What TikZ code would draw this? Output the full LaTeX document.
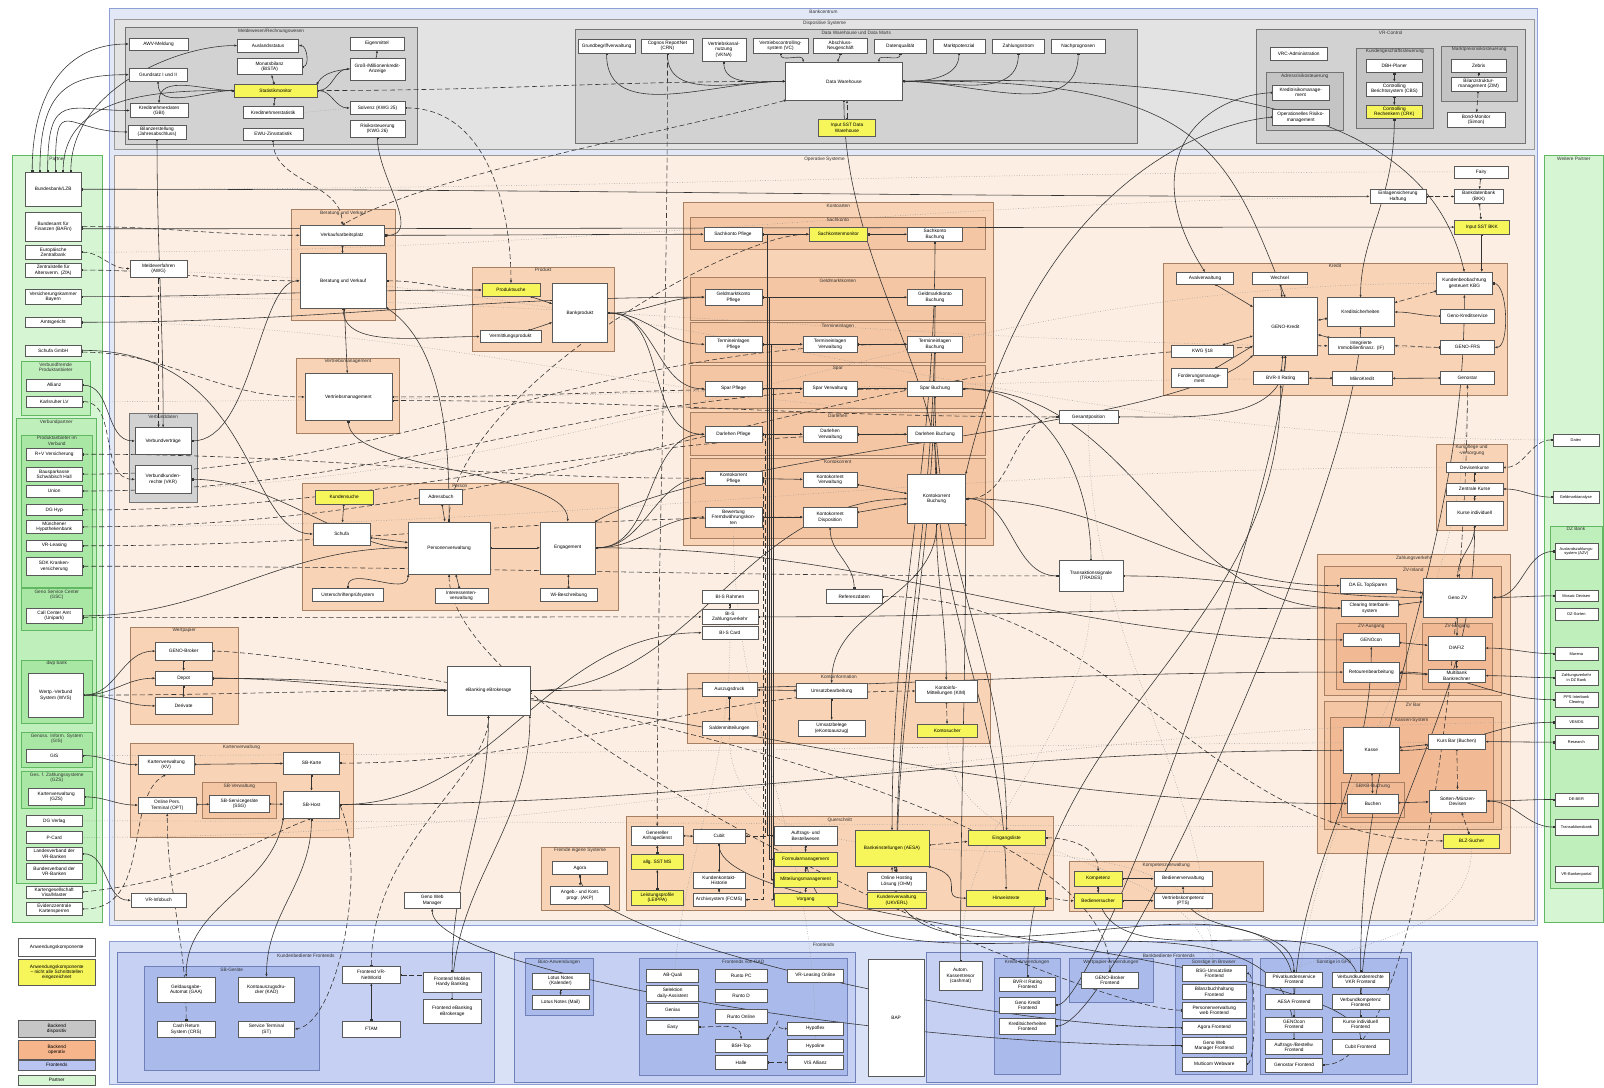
\documentclass[tikz,border=0pt]{standalone}
\usepackage{fontspec}
\setmainfont{Liberation Sans}
\usetikzlibrary{calc,arrows.meta,positioning}

\definecolor{bankfill}{HTML}{E2E8F6}
\definecolor{frameblue}{HTML}{8E9FD8}
\definecolor{dispfill}{HTML}{E3E3E3}
\definecolor{grayfill}{HTML}{D2D2D2}
\definecolor{grayfill2}{HTML}{C4C4C4}
\definecolor{operfill}{HTML}{FCEEE2}
\definecolor{orfill}{HTML}{F8D3B5}
\definecolor{orfill2}{HTML}{F5C6A3}
\definecolor{orfill3}{HTML}{F1BA95}
\definecolor{orline}{HTML}{A77F63}
\definecolor{frontfill}{HTML}{D9E1F7}
\definecolor{bluefill}{HTML}{C5D0F2}
\definecolor{bluefill2}{HTML}{AABBEB}
\definecolor{blueline}{HTML}{6F7FB8}
\definecolor{greenfill}{HTML}{D6F5D3}
\definecolor{greenfill2}{HTML}{BFEFBB}
\definecolor{greenfill3}{HTML}{A8E8A4}
\definecolor{greenline}{HTML}{62B862}
\definecolor{hlyellow}{HTML}{F6F65A}
\definecolor{legorange}{HTML}{F7B58C}
\definecolor{leggray}{HTML}{C6C6C6}
\definecolor{legblue}{HTML}{B9C4F1}

\pgfdeclarelayer{grp}
\pgfdeclarelayer{wire}
\pgfsetlayers{grp,wire,main}

\tikzset{
  comp/.style={draw=black!65, fill=white, line width=0.25pt, inner sep=0.3pt, outer sep=0pt,
    align=center, font=\fontsize{2.65}{3}\selectfont},
  compy/.style={comp, fill=hlyellow},
  compsm/.style={comp, font=\fontsize{2.2}{2.6}\selectfont},
  zonebase/.style={line width=0.3pt, inner sep=0pt, outer sep=0pt},
  grptitle/.style={anchor=north, inner sep=0.6pt, align=center, text=black!80,
    font=\fontsize{2.65}{3}\selectfont},
  bankzone/.style={zonebase, fill=bankfill, draw=frameblue, line width=0.55pt},
  dispzone/.style={zonebase, fill=dispfill, draw=black!40, line width=0.4pt},
  grayzone/.style={zonebase, fill=grayfill, draw=black!55},
  grayzone2/.style={zonebase, fill=grayfill2, draw=black!55},
  operzone/.style={zonebase, fill=operfill, draw=black!40, line width=0.4pt},
  orzone/.style={zonebase, fill=orfill, draw=orline},
  orzone2/.style={zonebase, fill=orfill2, draw=orline},
  orzone3/.style={zonebase, fill=orfill3, draw=orline},
  frontzone/.style={zonebase, fill=frontfill, draw=frameblue, line width=0.55pt},
  bluezone/.style={zonebase, fill=bluefill, draw=blueline},
  bluezone2/.style={zonebase, fill=bluefill2, draw=blueline},
  greenzone/.style={zonebase, fill=greenfill, draw=greenline, line width=0.4pt},
  greenzone2/.style={zonebase, fill=greenfill2, draw=greenline},
  greenzone3/.style={zonebase, fill=greenfill3, draw=greenline},
  ln/.style={draw=black!80, line width=0.32pt,
    {Square[length=1pt,width=1pt]}-{Latex[length=1.6pt,width=1.3pt]}},
  dln/.style={ln, dash pattern=on 2.8pt off 1.6pt},
  pln/.style={draw=black!40, line width=0.25pt, dash pattern=on 0.4pt off 1pt}
}

% component box and group box from two corners (x1,y1) (x2,y2)
\newcommand{\blk}[7]{\node[#1, minimum width={(#5-#3)*0.02cm}, minimum height={(#6-#4)*0.02cm}]
  (#2) at ({(#3+#5)/2},{(#4+#6)/2}) {#7};}
\newcommand{\zone}[7]{\node[#1, minimum width={(#5-#3)*0.02cm}, minimum height={(#6-#4)*0.02cm},
  label={[grptitle]north:#7}] (#2) at ({(#3+#5)/2},{(#4+#6)/2}) {};}

\begin{document}
\begin{tikzpicture}[x=0.02cm, y=-0.02cm]
\useasboundingbox (0,0) rectangle (1568,1063);

\begin{pgfonlayer}{grp}
  \fill[white] (0,0) rectangle (1568,1063);
  % ---- Bankcentrum and dispositive systems ----
  \zone{bankzone}{bankcentrum}{107}{8}{1503}{905}{Bankcentrum}
  \zone{dispzone}{dispo}{112}{19}{1500}{146}{Dispositive Systeme}
  \zone{grayzone}{meldewesen}{122}{27}{408}{141}{Meldewesen/Rechnungswesen}
  \zone{grayzone}{dwh}{562}{29}{1112}{140}{Data Warehouse und Data Marts}
  \zone{grayzone}{vrcontrol}{1228}{29}{1491}{140}{VR-Control}
  \zone{grayzone2}{adress}{1238}{71}{1313}{127}{Adressrisikosteuerung}
  \zone{grayzone2}{kundengesch}{1326}{47}{1401}{125}{Kundengeschäftssteuerung}
  \zone{grayzone2}{marktpreis}{1409}{45}{1483}{99}{Marktpreisrisikosteuerung}
  % ---- operative systems ----
  \zone{operzone}{operativ}{112}{152}{1500}{900}{Operative Systeme}
  \zone{orzone}{beratung}{285}{205}{386}{313}{Beratung und Verkauf}
  \zone{orzone}{vertrieb}{290}{350}{390}{424}{Vertriebsmanagement}
  \zone{orzone}{produkt}{462}{261}{600}{343}{Produkt}
  \zone{grayzone}{verbunddaten}{126}{404}{193}{491}{Verbunddaten}
  \zone{orzone}{person}{295}{472}{604}{597}{Person}
  \zone{orzone}{wertpapier}{127}{613}{233}{708}{Wertpapier}
  \zone{orzone}{karten}{127}{727}{345}{818}{Kartenverwaltung}
  \zone{orzone2}{sbservice}{198}{765}{270}{800}{SB-Verwaltung}
  \zone{orzone}{kontoarten}{668}{198}{971}{533}{Kontoarten}
  \zone{orzone2}{sachkonto}{675}{212}{963}{244}{Sachkonto}
  \zone{orzone2}{geldmarkt}{675}{271}{963}{313}{Geldmarktkonten}
  \zone{orzone2}{termin}{675}{315}{963}{354}{Termineinlagen}
  \zone{orzone2}{spar}{675}{357}{963}{399}{Spar}
  \zone{orzone2}{darlehen}{675}{403}{963}{445}{Darlehen}
  \zone{orzone2}{kontokorrent}{675}{448}{963}{526}{Kontokorrent}
  \zone{orzone}{kontoinfo}{672}{658}{968}{727}{Kontoinformation}
  \zone{orzone}{kredit}{1137}{257}{1473}{386}{Kredit}
  \zone{orzone}{kurse}{1404}{434}{1473}{518}{Kurspflege und\\-versorgung}
  \zone{orzone}{zvouter}{1288}{542}{1476}{834}{Zahlungsverkehr}
  \zone{orzone2}{zvinland}{1295}{554}{1468}{680}{ZV-Inland}
  \zone{orzone3}{zvaus}{1306}{609}{1375}{674}{ZV-Ausgang}
  \zone{orzone3}{zvein}{1390}{609}{1459}{674}{ZV-Eingang}
  \zone{orzone2}{zvbar}{1295}{686}{1468}{811}{ZV Bar}
  \zone{orzone3}{kassensys}{1300}{701}{1460}{804}{Kassen-System}
  \zone{orzone3}{sbkb}{1311}{765}{1373}{799}{SB/KB-Buchung}
  \zone{orzone}{fremde}{529}{828}{605}{890}{Fremde eigene Systeme}
  \zone{orzone}{querschnitt}{612}{798}{1030}{890}{Querschnitt}
  \zone{orzone}{kompetenz}{1045}{842}{1235}{891}{Kompetenzverwaltung}
  % ---- partners ----
  \zone{greenzone}{partner}{12}{152}{100}{902}{Partner}
  \zone{greenzone2}{vfremd}{21}{353}{88}{406}{Verbundfremde\\Produktanbieter}
  \zone{greenzone2}{vpartner}{16}{409}{94}{863}{Verbundpartner}
  \zone{greenzone3}{panbieter}{21}{425}{90}{574}{Produktanbieter im\\Verbund}
  \zone{greenzone3}{gsc}{21}{575}{90}{616}{Geno Service Center\\(GSC)}
  \zone{greenzone3}{dwpbank}{21}{645}{90}{707}{dwp bank}
  \zone{greenzone3}{gis}{21}{716}{90}{750}{Genoss. Inform. System\\(GIS)}
  \zone{greenzone3}{gzs}{21}{754}{90}{790}{Ges. f. Zahlungssysteme\\(GZS)}
  \zone{greenzone}{weitere}{1510}{152}{1567}{902}{Weitere Partner}
  \zone{greenzone2}{dzbank}{1515}{514}{1566}{868}{DZ Bank}
  % ---- frontends ----
  \zone{frontzone}{frontends}{107}{920}{1503}{1060}{Frontends}
  \zone{bluezone}{kundfront}{115}{931}{483}{1058}{Kundenbediente Frontends}
  \zone{bluezone2}{sbgeraete}{141}{945}{312}{1046}{SB-Geräte}
  \zone{bluezone}{mitfront}{503}{931}{836}{1058}{}
  \zone{bluezone2}{buero}{513}{937}{580}{992}{Büro-Anwendungen}
  \zone{bluezone2}{gadfront}{625}{937}{828}{1051}{Frontends von GAD}
  \zone{bluezone}{bankfront}{905}{931}{1380}{1058}{Bankbediente Frontends}
  \zone{bluezone2}{kreditfront}{972}{937}{1036}{1050}{Kredit-Anwendungen}
  \zone{bluezone2}{wpfront}{1045}{937}{1127}{980}{Wertpapier-Anwendungen}
  \zone{bluezone2}{browser}{1149}{937}{1224}{1050}{Sonstige im Browser}
  \zone{bluezone2}{gfs}{1232}{937}{1376}{1050}{Sonstige in GFS}
\end{pgfonlayer}

% ---- Meldewesen ----
\blk{comp}{awv}{126}{37}{184}{49}{AWV-Meldung}
\blk{comp}{auslands}{232}{38}{292}{51}{Auslandsstatus}
\blk{comp}{bista}{232}{57}{295}{73}{Monatsbilanz\\(BISTA)}
\blk{comp}{eigen}{342}{36}{395}{49}{Eigenmittel}
\blk{comp}{gross}{342}{57}{396}{78}{Groß-/Millionenkredit-\\Anzeige}
\blk{comp}{grundsatz}{126}{67}{183}{79}{Grundsatz I und II}
\blk{compy}{statmon}{229}{82}{310}{95}{Statistikmonitor}
\blk{comp}{kreditnd}{127}{101}{184}{115}{Kreditnehmerdaten\\(GBI)}
\blk{comp}{kreditns}{238}{104}{296}{116}{Kreditnehmerstatistik}
\blk{comp}{solvenz}{342}{99}{396}{112}{Solvenz (KWG 25)}
\blk{comp}{bilanz}{125}{122}{182}{136}{Bilanzerstellung\\(Jahresabschluss)}
\blk{comp}{ewu}{238}{125}{296}{137}{EWU-Zinsstatistik}
\blk{comp}{risiko}{342}{118}{396}{134}{Risikosteuerung\\(KWG 26)}

% ---- Data Warehouse ----
\blk{comp}{grundb}{565}{38}{621}{52}{Grundbegriffverwaltung}
\blk{comp}{cognos}{627}{38}{678}{52}{Cognos ReportNet\\(CRN)}
\blk{comp}{vkna}{686}{37}{729}{60}{Vertriebskanal-\\nutzung\\(VKNA)}
\blk{comp}{vcs}{736}{37}{790}{52}{Vertriebscontrolling-\\system (VC)}
\blk{comp}{abschl}{795}{37}{848}{52}{Abschluss-\\Neugeschäft}
\blk{comp}{datenq}{855}{38}{905}{52}{Datenqualität}
\blk{comp}{markt}{912}{38}{963}{52}{Marktpotenzial}
\blk{comp}{zahlstr}{970}{38}{1021}{52}{Zahlungsstrom}
\blk{comp}{nachpr}{1028}{38}{1080}{52}{Nachprognosen}
\blk{comp}{dwhbox}{768}{61}{882}{98}{Data Warehouse}
\blk{compy}{inputdwh}{800}{117}{856}{133}{Input SST Data\\Warehouse}

% ---- VR-Control ----
\blk{comp}{vrcadmin}{1242}{46}{1297}{59}{VRC-Administration}
\blk{comp}{kreditrm}{1244}{83}{1299}{98}{Kreditrisikomanage-\\ment}
\blk{comp}{oprisk}{1244}{107}{1299}{122}{Operationelles Risiko-\\management}
\blk{comp}{dbhplaner}{1336}{58}{1390}{71}{DBH-Planer}
\blk{comp}{cbs}{1336}{80}{1390}{94}{Controlling\\Berichtssystem (CBS)}
\blk{compy}{crk}{1336}{103}{1390}{116}{Controlling\\Rechenkern (CRK)}
\blk{comp}{zebris}{1419}{58}{1472}{71}{Zebris}
\blk{comp}{zim}{1419}{75}{1472}{89}{Bilanzstruktur-\\management (ZIM)}
\blk{comp}{simon}{1415}{110}{1471}{124}{Bond-Monitor\\(Simon)}

% ---- Operative, left part ----
\blk{comp}{meldev}{127}{254}{183}{271}{Meldeverfahren\\(AWG)}
\blk{comp}{vvertr}{132}{418}{187}{444}{Verbundverträge}
\blk{comp}{vkr}{132}{455}{187}{482}{Verbundkunden-\\rechte (VKR)}
\blk{comp}{vap}{293}{220}{376}{240}{Verkaufsarbeitsplatz}
\blk{comp}{bvbox}{293}{248}{378}{301}{Beratung und Verkauf}
\blk{comp}{vmgmt}{298}{365}{383}{411}{Vertriebsmanagement}
\blk{compy}{produktsuche}{471}{277}{528}{290}{Produktsuche}
\blk{comp}{vermittl}{469}{323}{529}{335}{Vermittlungsprodukt}
\blk{comp}{bankprod}{540}{277}{594}{335}{Bankprodukt}
\blk{compy}{kundensuche}{308}{479}{365}{493}{Kundensuche}
\blk{comp}{adressbuch}{410}{478}{452}{493}{Adressbuch}
\blk{comp}{schufa}{306}{511}{362}{533}{Schufa}
\blk{comp}{persvw}{399}{510}{479}{561}{Personenverwaltung}
\blk{comp}{engag}{528}{510}{582}{561}{Engagement}
\blk{comp}{unterschr}{305}{575}{375}{588}{Unterschriftenprüfsystem}
\blk{comp}{interess}{425}{575}{477}{590}{Interessenten-\\verwaltung}
\blk{comp}{wibeschr}{528}{575}{584}{588}{Wi-Beschreibung}
\blk{comp}{genobroker}{152}{628}{207}{645}{GENO-Broker}
\blk{comp}{depot}{152}{656}{207}{670}{Depot}
\blk{comp}{derivate}{152}{682}{207}{698}{Derivate}
\blk{comp}{ebanking}{437}{651}{518}{699}{eBanking eBrokerage}
\blk{comp}{kartenvw}{135}{738}{190}{757}{Kartenverwaltung\\(KV)}
\blk{comp}{sbkarte}{277}{735}{332}{757}{SB-Karte}
\blk{comp}{opt}{135}{779}{192}{795}{Online Pers.\\Terminal (OPT)}
\blk{comp}{sbserv}{205}{777}{263}{794}{SB-Servicegeräte\\(SSG)}
\blk{comp}{sbhost}{277}{773}{332}{800}{SB-Host}
\blk{comp}{vrinfobuch}{128}{873}{182}{887}{VR-Infobuch}
\blk{comp}{genoweb}{395}{872}{450}{888}{Geno Web\\Manager}

% ---- Kontoarten ----
\blk{comp}{skpflege}{688}{222}{745}{236}{Sachkonto Pflege}
\blk{compy}{skmonitor}{791}{222}{848}{236}{Sachkontenmonitor}
\blk{comp}{skbuchung}{887}{222}{941}{236}{Sachkonto\\Buchung}
\blk{comp}{gmpflege}{689}{283}{745}{298}{Geldmarktkonto\\Pflege}
\blk{comp}{gmbuchung}{887}{283}{941}{298}{Geldmarktkonto\\Buchung}
\blk{comp}{tepflege}{689}{329}{745}{344}{Termineinlagen\\Pflege}
\blk{comp}{teverw}{785}{329}{838}{344}{Termineinlagen\\Verwaltung}
\blk{comp}{tebuchung}{887}{329}{941}{344}{Termineinlagen\\Buchung}
\blk{comp}{sppflege}{689}{373}{745}{387}{Spar Pflege}
\blk{comp}{spverw}{785}{373}{838}{387}{Spar Verwaltung}
\blk{comp}{spbuchung}{887}{373}{941}{387}{Spar Buchung}
\blk{comp}{dlpflege}{689}{417}{745}{432}{Darlehen Pflege}
\blk{comp}{dlverw}{785}{417}{838}{432}{Darlehen\\Verwaltung}
\blk{comp}{dlbuchung}{887}{417}{941}{432}{Darlehen Buchung}
\blk{comp}{kkpflege}{689}{461}{745}{474}{Kontokorrent\\Pflege}
\blk{comp}{kkverw}{785}{462}{838}{476}{Kontokorrent\\Verwaltung}
\blk{comp}{kkbuchung}{887}{464}{944}{511}{Kontokorrent\\Buchung}
\blk{comp}{fwbewert}{689}{496}{745}{515}{Bewertung\\Fremdwährungskon-\\ten}
\blk{comp}{kkdispo}{785}{496}{838}{515}{Kontokorrent\\Disposition}

% ---- below Kontoarten ----
\blk{comp}{bisrahmen}{686}{577}{741}{590}{BI-S Rahmen}
\blk{comp}{biszv}{686}{596}{741}{610}{BI-S\\Zahlungsverkehr}
\blk{comp}{biscard}{686}{612}{741}{625}{BI-S Card}
\blk{comp}{referenz}{808}{576}{862}{590}{Referenzdaten}
\blk{comp}{auszug}{686}{667}{740}{681}{Auszugsdruck}
\blk{comp}{salden}{686}{705}{740}{719}{Saldenmitteilungen}
\blk{comp}{umsatz}{778}{668}{848}{683}{Umsatzbearbeitung}
\blk{comp}{ekonto}{780}{704}{846}{720}{Umsatzbelege\\(eKontoauszug)}
\blk{comp}{kim}{895}{665}{955}{686}{Kontoinfo-\\Mitteilungen (KIM)}
\blk{compy}{kontosucher}{897}{708}{955}{721}{Kontosucher}
\blk{comp}{gesamtpos}{1035}{401}{1093}{414}{Gesamtposition}
\blk{comp}{trades}{1035}{548}{1098}{578}{Transaktionssignale\\(TRADES)}

% ---- Kredit ----
\blk{comp}{fairy}{1422}{162}{1474}{174}{Fairy}
\blk{comp}{einlagen}{1339}{185}{1394}{199}{Einlagensicherung\\Haftung}
\blk{comp}{bkk}{1422}{185}{1469}{199}{Bankdatenbank\\(BKK)}
\blk{compy}{inputbkk}{1422}{215}{1475}{229}{Input SST BKK}
\blk{comp}{aval}{1150}{266}{1206}{278}{Avalverwaltung}
\blk{comp}{wechsel}{1224}{266}{1278}{278}{Wechsel}
\blk{comp}{genokredit}{1225}{291}{1288}{347}{GENO-Kredit}
\blk{comp}{kreditsich}{1297}{291}{1363}{319}{Kreditsicherheiten}
\blk{comp}{immofin}{1298}{330}{1363}{346}{Integrierte\\Immobilienfinanz. (IF)}
\blk{comp}{kwg18}{1145}{337}{1206}{349}{KWG §18}
\blk{comp}{fordmgmt}{1145}{360}{1200}{379}{Forderungsmanage-\\ment}
\blk{comp}{bvrrating}{1225}{363}{1279}{376}{BVR-II Rating}
\blk{comp}{mikro}{1302}{363}{1361}{377}{MikroKredit}
\blk{comp}{kbg}{1404}{266}{1459}{288}{Kundenbeobachtung\\gesteuert KBG}
\blk{comp}{genoservice}{1408}{302}{1461}{316}{Geno-Kreditservice}
\blk{comp}{genofrs}{1408}{333}{1461}{346}{GENO-FRS}
\blk{comp}{genostar}{1408}{363}{1461}{376}{Genostar}
\blk{comp}{devisen}{1414}{452}{1469}{462}{Devisenkurse}
\blk{comp}{zkurse}{1414}{472}{1469}{484}{Zentrale Kurse}
\blk{comp}{ikurse}{1414}{490}{1469}{513}{Kurse individuell}

% ---- Zahlungsverkehr ----
\blk{comp}{topsparen}{1310}{565}{1365}{580}{DA EL TopSparen}
\blk{comp}{clearing}{1311}{587}{1367}{602}{Clearing Interbank-\\system}
\blk{comp}{genozv}{1391}{565}{1459}{603}{Geno ZV}
\blk{comp}{genocon}{1313}{619}{1368}{632}{GENOcon}
\blk{comp}{retouren}{1313}{647}{1368}{667}{Retourenbearbeitung}
\blk{comp}{diafiz}{1396}{622}{1452}{645}{DIAFIZ}
\blk{comp}{multibank}{1396}{654}{1452}{667}{Multibank\\Bankrechner}
\blk{comp}{kasse}{1313}{711}{1368}{756}{Kasse}
\blk{comp}{kursbar}{1396}{718}{1452}{732}{Kurs Bar (Buchen)}
\blk{comp}{buchen}{1317}{776}{1367}{795}{Buchen}
\blk{comp}{sorten}{1397}{772}{1453}{794}{Sorten-/Münzen-\\Devisen}
\blk{compy}{blzsucher}{1411}{815}{1466}{829}{BLZ-Sucher}

% ---- Weitere Partner ----
\blk{compsm}{datev}{1518}{424}{1563}{436}{Datev}
\blk{compsm}{gesanalyse}{1518}{480}{1563}{492}{Geldmarktanalyse}
\blk{compsm}{azv}{1520}{531}{1562}{547}{Auslandszahlungs-\\system (AZV)}
\blk{compsm}{mosaic}{1520}{577}{1562}{588}{Mosaic Devisen}
\blk{compsm}{dzsorten}{1520}{595}{1562}{606}{DZ-Sorten}
\blk{compsm}{marena}{1520}{633}{1562}{645}{Marena}
\blk{compsm}{zvdz}{1520}{655}{1562}{670}{Zahlungsverkehr\\in DZ Bank}
\blk{compsm}{pps}{1520}{677}{1562}{691}{PPS Interbank\\Clearing}
\blk{compsm}{vemos}{1520}{700}{1562}{712}{VEMOS}
\blk{compsm}{research}{1520}{719}{1562}{732}{Research}
\blk{compsm}{deber}{1520}{775}{1562}{788}{DE-BER}
\blk{compsm}{transbank}{1520}{801}{1562}{816}{Transaktionsbank}
\blk{compsm}{vrportal}{1520}{847}{1562}{862}{VR-Bankenportal}

% ---- Querschnitt ----
\blk{comp}{agora}{540}{842}{594}{855}{Agora}
\blk{comp}{akp}{538}{866}{596}{884}{Angeb.- und Kont.\\progr. (AKP)}
\blk{comp}{anfrage}{617}{808}{668}{826}{Genereller\\Anfragedienst}
\blk{compy}{allgsst}{617}{835}{668}{850}{allg. SST MS}
\blk{compy}{leippa}{617}{870}{668}{885}{Leistungsprofile\\(LEIPPA)}
\blk{comp}{cubit}{678}{811}{728}{824}{Cubit}
\blk{comp}{kkhist}{678}{853}{728}{868}{Kundenkontakt-\\Historie}
\blk{comp}{archiv}{678}{873}{728}{886}{Archivsystem (FCMS)}
\blk{comp}{auftrag}{757}{808}{818}{826}{Auftrags- und\\Bestellwesen}
\blk{compy}{formular}{757}{833}{818}{847}{Formularmanagement}
\blk{compy}{mitteil}{757}{853}{818}{867}{Mitteilungsmanagement}
\blk{compy}{vorgang}{757}{873}{818}{886}{Vorgang}
\blk{compy}{aesa}{836}{812}{908}{847}{Bankeinstellungen (AESA)}
\blk{comp}{ohm}{848}{853}{905}{870}{Online Hosting\\Lösung (OHM)}
\blk{compy}{ukverl}{848}{872}{905}{888}{Kundenverwaltung\\(UKVERL)}
\blk{compy}{eingang}{946}{812}{1022}{826}{Eingangsliste}
\blk{compy}{hinweis}{945}{870}{1022}{886}{Hinweistexte}
\blk{compy}{kompetenzbox}{1050}{852}{1097}{866}{Kompetenz}
\blk{comp}{bedvw}{1128}{852}{1185}{866}{Bedienerverwaltung}
\blk{compy}{bedsucher}{1050}{873}{1097}{888}{Bedienersucher}
\blk{comp}{pts}{1128}{873}{1185}{888}{Vertriebskompetenz\\(PTS)}

% ---- Partner ----
\blk{comp}{bbank}{25}{168}{79}{202}{Bundesbank/LZB}
\blk{comp}{bafin}{25}{207}{79}{236}{Bundesamt für\\Finanzen (BAFin)}
\blk{comp}{ezb}{25}{240}{79}{253}{Europäische\\Zentralbank}
\blk{comp}{zfa}{25}{257}{79}{271}{Zentralstelle für\\Altersverm. (ZfA)}
\blk{comp}{vkbayern}{25}{283}{79}{297}{Versicherungskammer\\Bayern}
\blk{comp}{amtsg}{25}{310}{79}{320}{Amtsgericht}
\blk{comp}{schufag}{25}{337}{79}{348}{Schufa GmbH}
\blk{comp}{allianz}{26}{371}{80}{382}{Allianz}
\blk{comp}{klv}{26}{387}{80}{398}{Karlsruher LV}
\blk{comp}{ruv}{26}{438}{80}{450}{R+V Versicherung}
\blk{comp}{bsh}{26}{457}{80}{470}{Bausparkasse\\Schwäbisch Hall}
\blk{comp}{union}{26}{474}{80}{486}{Union}
\blk{comp}{dghyp}{26}{493}{80}{504}{DG Hyp}
\blk{comp}{mhb}{26}{509}{80}{521}{Münchener\\Hypothekenbank}
\blk{comp}{vrleasing}{26}{528}{80}{539}{VR-Leasing}
\blk{comp}{sdk}{26}{545}{80}{562}{SDK Kranken-\\versicherung}
\blk{comp}{callcenter}{26}{595}{80}{609}{Call Center Amt\\(Unipark)}
\blk{comp}{wvs}{28}{658}{81}{701}{Wertp.-Verbund\\System (WVS)}
\blk{comp}{gisbox}{26}{732}{80}{745}{GIS}
\blk{comp}{kvgzs}{28}{771}{82}{787}{Kartenverwaltung\\(GZS)}
\blk{comp}{dgverlag}{26}{797}{80}{808}{DG Verlag}
\blk{comp}{pcard}{26}{813}{80}{824}{P-Card}
\blk{comp}{lvvr}{26}{828}{80}{841}{Landesverband der\\VR-Banken}
\blk{comp}{bvvr}{26}{844}{80}{859}{Bundesverband der\\VR-Banken}
\blk{comp}{kartenges}{26}{866}{80}{878}{Kartengesellschaft\\Visa/Master}
\blk{comp}{evidenz}{26}{882}{80}{895}{Evidenzzentrale\\Kartensperren}

% ---- Frontends ----
\blk{comp}{gaa}{154}{955}{210}{980}{Geldausgabe-\\Automat (GAA)}
\blk{comp}{kad}{233}{955}{288}{980}{Kontoauszugsdru-\\cker (KAD)}
\blk{comp}{crs}{154}{998}{210}{1014}{Cash Return\\System (CRS)}
\blk{comp}{st}{233}{998}{288}{1014}{Service Terminal\\(ST)}
\blk{comp}{vrnet}{335}{945}{391}{961}{Frontend VR-\\NetWorld}
\blk{comp}{ftam}{335}{998}{391}{1014}{FTAM}
\blk{comp}{mobile}{414}{950}{470}{970}{Frontend Mobiles\\Handy Banking}
\blk{comp}{febank}{414}{977}{470}{1000}{Frontend eBanking\\eBrokerage}
\blk{comp}{lotuskal}{520}{951}{576}{967}{Lotus Notes\\(Kalender)}
\blk{comp}{lotusmail}{520}{973}{576}{987}{Lotus Notes (Mail)}
\blk{comp}{abquali}{632}{947}{683}{960}{AB-Quali}
\blk{comp}{selektion}{632}{963}{683}{979}{Selektion\\daily-Assistent}
\blk{comp}{geniax}{632}{981}{683}{994}{Geniax}
\blk{comp}{easy}{632}{997}{683}{1011}{Easy}
\blk{comp}{runtopc}{699}{947}{750}{960}{Runto PC}
\blk{comp}{runtod}{699}{967}{750}{980}{Runto D}
\blk{comp}{runtoon}{699}{987}{750}{1000}{Runto Online}
\blk{comp}{bshtop}{699}{1016}{750}{1029}{BSH-Top}
\blk{comp}{halle}{699}{1032}{750}{1045}{Halle}
\blk{comp}{vrleasonl}{770}{947}{824}{960}{VR-Leasing Online}
\blk{comp}{hypoflex}{770}{999}{824}{1012}{Hypoflex}
\blk{comp}{hypoline}{770}{1016}{824}{1029}{Hypoline}
\blk{comp}{visallianz}{770}{1032}{824}{1045}{VIS Allianz}
\blk{comp}{bap}{849}{938}{903}{1052}{BAP}
\blk{comp}{kassentresor}{918}{940}{960}{968}{Autom.\\Kassentresor\\(cashmat)}
\blk{comp}{bvrfront}{977}{955}{1032}{969}{BVR-II Rating\\Frontend}
\blk{comp}{genokrfront}{977}{975}{1032}{990}{Geno Kredit\\Frontend}
\blk{comp}{ksfront}{977}{995}{1032}{1011}{Kreditsicherheiten\\Frontend}
\blk{comp}{brokerfront}{1057}{950}{1113}{966}{GENO-Broker\\Frontend}
\blk{comp}{bsgfront}{1156}{944}{1218}{959}{BSG-Umsatzliste\\Frontend}
\blk{comp}{bilfront}{1156}{962}{1218}{977}{Bilanzbuchhaltung\\Frontend}
\blk{comp}{pvfront}{1156}{980}{1218}{995}{Personenverwaltung\\web Frontend}
\blk{comp}{agorafront}{1156}{998}{1218}{1011}{Agora Frontend}
\blk{comp}{gwmfront}{1156}{1014}{1218}{1030}{Geno Web\\Manager Frontend}
\blk{comp}{multicom}{1156}{1033}{1218}{1047}{Multicom Webware}
\blk{comp}{pksfront}{1237}{950}{1293}{965}{Privatkundenservice\\Frontend}
\blk{comp}{aesafront}{1237}{972}{1293}{987}{AESA Frontend}
\blk{comp}{genoconfront}{1237}{994}{1293}{1009}{GENOcon\\Frontend}
\blk{comp}{auftragfront}{1237}{1016}{1293}{1031}{Auftrags-/Bestellw.\\Frontend}
\blk{comp}{genvfront}{1237}{1034}{1293}{1048}{Genostar Frontend}
\blk{comp}{vkrfront}{1302}{950}{1358}{965}{Verbundkundenrechte\\VKR Frontend}
\blk{comp}{vkompfront}{1302}{972}{1358}{987}{Verbundkompetenz\\Frontend}
\blk{comp}{ikursefront}{1302}{994}{1358}{1009}{Kurse individuell\\Frontend}
\blk{comp}{cubitfront}{1302}{1016}{1358}{1031}{Cubit Frontend}

% ---- legend ----
\blk{comp}{leg1}{18}{917}{93}{935}{Anwendungskomponente}
\blk{compy}{leg2}{18}{938}{93}{963}{Anwendungskomponente\\– nicht alle Schnittstellen\\eingezeichnet}
\blk{comp, fill=leggray}{leg3}{18}{997}{93}{1014}{Backend\\dispositiv}
\blk{comp, fill=legorange}{leg4}{18}{1017}{93}{1035}{Backend\\operativ}
\blk{comp, fill=legblue}{leg5}{18}{1036}{93}{1046}{Frontends}
\blk{comp, fill=greenfill}{leg6}{18}{1051}{93}{1061}{Partner}

\begin{pgfonlayer}{wire}
  % ---- partner into Meldewesen ----
  \foreach \dst/\fr in {awv/0.12, grundsatz/0.26, kreditnd/0.4, bilanz/0.54, statmon/0.68, auslands/0.82}
    \draw[ln] ($(bbank.north west)!\fr!(bbank.north east)$) .. controls +(0,-80) and +(-60,0) .. (\dst.west);

  % ---- Meldewesen ----
  \foreach \dst in {bista, kreditns} \draw[ln] (statmon) -- (\dst);
  \draw[ln] (statmon.east) to[out=0,in=180] (gross.west);
  \draw[ln] (statmon.east) to[out=0,in=180] (solvenz.west);
  \draw[ln] (statmon.north east) to[out=60,in=-90] (eigen.south);
  \draw[ln] (statmon.west) to[out=180,in=-90] (grundsatz.south);
  \draw[ln] (statmon.west) to[out=180,in=90] (kreditnd.north);
  \draw[ln] (bista.east) to[out=0,in=0] (auslands.east);
  \draw[dln] (statmon.east) to[out=0,in=180] (dwhbox.west);
  \draw[pln] (kreditns.east) -- (solvenz.west);
  \draw[ln] (bilanz.south) to[out=-90,in=90] (vvertr.north);
  \draw[dln] (ewu.south) to[out=-90,in=90] (vap.north);
  \draw[ln] (risiko.south) to[out=-90,in=0] (vap.east);
  \draw[dln] (solvenz.east) to[out=0,in=90] (produktsuche.north);

  % ---- Data Warehouse ----
  \foreach \src in {grundb, cognos, vkna} \draw[ln] (\src.south) to[out=-90,in=180] (dwhbox.west);
  \foreach \src/\fr in {vcs/0.15, abschl/0.45, datenq/0.8}
    \draw[ln] (\src.south) to[out=-90,in=90] ($(dwhbox.north west)!\fr!(dwhbox.north east)$);
  \foreach \src in {markt, zahlstr, nachpr} \draw[ln] (\src.south) to[out=-90,in=0] (dwhbox.east);
  \draw[dln] (inputdwh.north) -- (inputdwh.north |- dwhbox.south);
  \draw[ln] (dwhbox.east) .. controls (1180,75) and (1200,150) .. (genokredit.north);
  \draw[ln] (dwhbox.east) .. controls (1250,70) and (1400,130) .. (kbg.north);
  \draw[ln] (dwhbox.south) .. controls +(0,150) and +(0,-100) .. (kkbuchung.north);
  \draw[dln] (dwhbox.south west) .. controls (650,130) and (420,170) .. (vap.north);
  \draw[dln] (cognos.south) to[out=-90,in=90] (anfrage.north);

  % ---- VR-Control ----
  \draw[ln] (dbhplaner) -- (cbs);
  \draw[ln] (cbs) -- (crk);
  \draw[ln] (zebris) -- (zim);
  \draw[dln] (zim) -- (simon);
  \draw[ln] (crk.south) .. controls +(0,80) and +(0,-60) .. (kreditsich.north);
  \draw[ln] (kreditrm.west) .. controls (1170,95) and (1110,160) .. (aval.north);
  \draw[ln] (oprisk.west) .. controls (1180,120) and (1010,180) .. (kkbuchung.north east);

  % ---- partner to the right ----
  \draw[ln] (bbank.east) to[out=0,in=180] (einlagen.west);
  \draw[dln] (bafin.east) to[out=0,in=180] (vap.west);
  \draw[ln] ([yshift=-1.2pt]bafin.east) to[out=0,in=180] (inputbkk.west);
  \draw[dln] (ezb.east) to[out=0,in=180] (meldev.west);
  \draw[dln] (zfa.east) to[out=0,in=180] (bvbox.west);
  \draw[ln] (vkbayern.east) to[out=0,in=180] (produktsuche.west);
  \draw[ln] (schufag.east) .. controls (250,342) and (240,520) .. (schufa.west);
  \draw[dln] ([yshift=-1pt]schufag.east) to[out=0,in=180] (vmgmt.west);
  \draw[ln] (amtsg.east) to[out=0,in=180] (gmpflege.west);
  \draw[ln] (allianz.east) to[out=0,in=180] (vvertr.west);
  \draw[dln] (klv.east) to[out=0,in=180] (vkr.west);
  \foreach \src/\dst in {ruv/kkpflege, bsh/tebuchung, union/spbuchung, dghyp/dlbuchung,
                         mhb/immofin, vrleasing/kkdispo, sdk/trades}
    \draw[dln] (\src.east) to[out=0,in=180] (\dst.west);
  \draw[ln] (callcenter.east) to[out=0,in=180] (persvw.west);
  \draw[dln] ([yshift=-1pt]callcenter.east) to[out=0,in=180] (biszv.west);
  \foreach \dst in {genobroker, depot, derivate} \draw[ln] (wvs.east) to[out=0,in=180] (\dst.west);
  \draw[dln] (wvs.east) to[out=0,in=180] (ebanking.west);
  \draw[ln] (gisbox.east) to[out=0,in=180] (kartenvw.west);
  \draw[ln] (kvgzs.east) to[out=0,in=180] (opt.west);
  \draw[ln] (lvvr.east) to[out=0,in=180] (vrinfobuch.west);
  \draw[dln] (kartenges.east) .. controls (200,860) and (250,820) .. (sbhost.south);
  \draw[dln] (evidenz.east) .. controls (150,890) and (120,780) .. (kartenvw.south);

  % ---- dotted background links ----
  \foreach \src/\dst in {bbank/fairy, ezb/bkk, vkbayern/genofrs, klv/genostar, union/kbg, mhb/devisen,
                         gisbox/research, pcard/vemos, dgverlag/transbank, amtsg/gesamtpos, zfa/datev}
    \draw[pln] (\src.east) to[out=0,in=180] (\dst.west);
  \foreach \src/\dst in {bsgfront/salden, bilfront/kontosucher, pvfront/gesamtpos, genvfront/genostar,
                         multicom/blzsucher, kassentresor/trades, hypoline/fwbewert, easy/biscard}
    \draw[pln] (\src.north) to[out=90,in=-90] (\dst.south);

  % ---- Beratung, Produkt, Person ----
  \draw[ln] (vap) -- (bvbox);
  \draw[ln] (bvbox) -- (vmgmt);
  \draw[dln] (bvbox.east) to[out=0,in=180] (produktsuche.west);
  \draw[ln] (bvbox.south east) .. controls +(60,40) and +(0,-60) .. (persvw.north);
  \draw[ln] (vap.east) to[out=0,in=180] (skpflege.west);
  \draw[ln] (produktsuche) -- (bankprod);
  \draw[ln] (vermittl) -- (bankprod);
  \draw[ln] (bvbox.south) .. controls +(0,40) and +(-60,0) .. (vermittl.west);
  \foreach \dst in {gmpflege, tepflege, sppflege, dlpflege} \draw[ln] (bankprod.east) to[out=0,in=180] (\dst.west);
  \draw[dln] (vmgmt.east) to[out=0,in=180] (spverw.west);
  \draw[dln] ([yshift=-2pt]vmgmt.east) to[out=0,in=180] (gesamtpos.west);
  \draw[ln] (vmgmt.south) .. controls +(0,50) and +(0,-50) .. (engag.north);
  \draw[ln] (vvertr.east) .. controls +(60,0) and +(-40,0) .. (bvbox.west);
  \draw[ln] (vkr.east) .. controls +(80,0) and +(-60,0) .. (persvw.west);
  \draw[dln] (meldev.south) -- (meldev.south |- vvertr.north);
  \draw[ln] (kundensuche) -- (schufa);
  \draw[ln] (adressbuch) -- (persvw);
  \draw[ln] (schufa) -- (persvw);
  \draw[ln] (persvw) -- (engag);
  \draw[ln] (unterschr.north) to[out=90,in=-90] (persvw.south west);
  \draw[ln] (interess) -- (persvw);
  \draw[ln] (wibeschr) -- (engag);
  \foreach \dst in {kkpflege, fwbewert, dlpflege} \draw[ln] (engag.east) to[out=0,in=180] (\dst.west);
  \draw[ln] (engag.north east) .. controls (700,440) and (1150,420) .. (genokredit.south west);
  \draw[dln] (persvw.north) .. controls +(0,-120) and +(-80,0) .. (skmonitor.west);

  % ---- Wertpapier, eBanking, Karten ----
  \draw[ln] (genobroker) -- (depot);
  \draw[ln] (depot) -- (derivate);
  \draw[ln] (depot.east) to[out=0,in=180] (ebanking.west);
  \draw[ln] (ebanking.east) to[out=0,in=180] (kkbuchung.west);
  \draw[ln] (kartenvw) -- (sbkarte);
  \draw[ln] (opt) -- (sbserv);
  \draw[ln] (sbserv) -- (sbhost);
  \draw[ln] (sbkarte) -- (sbhost);
  \draw[ln] (sbhost.east) to[out=0,in=180] (biscard.west);
  \draw[dln] (sbkarte.east) to[out=0,in=180] (kim.west);

  % ---- Kontoarten ----
  \foreach \src/\dst in {skpflege/skmonitor, skmonitor/skbuchung, gmpflege/gmbuchung, tepflege/teverw,
                         teverw/tebuchung, sppflege/spverw, spverw/spbuchung, dlpflege/dlverw,
                         dlverw/dlbuchung, kkpflege/kkverw, kkverw/kkbuchung, fwbewert/kkdispo, kkdispo/kkbuchung}
    \draw[ln] (\src) -- (\dst);
  \foreach \src/\dst/\dx in {skpflege/auftrag/5, gmpflege/formular/7, tepflege/mitteil/9, sppflege/vorgang/11}
    \draw[ln] (\src.east) -- ++(\dx,0) |- (\dst.west);
  \foreach \src/\dst/\dx in {dlpflege/cubit/3, kkpflege/archiv/1}
    \draw[dln] (\src.east) -- ++(\dx,0) |- (\dst.east);
  \foreach \src/\dst in {skbuchung/aesa, gmbuchung/ohm, tebuchung/ukverl, spbuchung/eingang, dlbuchung/hinweis}
    \draw[ln] (\src.south) to[out=-90,in=90] (\dst.north);
  \draw[ln] (kkbuchung.south) to[out=-90,in=90] (umsatz.north);
  \draw[ln] (kkbuchung.south) to[out=-90,in=90] (kim.north);
  \draw[ln] (umsatz) -- (auszug);
  \draw[ln] (umsatz) -- (ekonto);
  \draw[ln] (auszug) -- (salden);
  \draw[dln] (kim) -- (kontosucher);
  \draw[dln] (gesamtpos.west) to[out=180,in=0] (kkbuchung.east);
  \draw[ln] (gesamtpos.east) to[out=0,in=-90] (genokredit.south);
  \draw[ln] (trades.west) to[out=180,in=0] (kkbuchung.east);
  \draw[ln] (trades.east) to[out=0,in=180] (genozv.west);
  \draw[ln] (trades.north) to[out=90,in=0] (spbuchung.east);
  \draw[ln] (bisrahmen) -- (biszv);
  \draw[ln] (biszv) -- (biscard);
  \draw[ln] (biszv.east) to[out=0,in=180] (clearing.west);
  \draw[dln] (referenz.east) to[out=0,in=180] (blzsucher.west);
  \draw[ln] (referenz.north) to[out=90,in=-90] (kkdispo.south);

  % ---- Kredit and Kurse ----
  \foreach \src in {aval, wechsel, kwg18, fordmgmt, bvrrating, kreditsich, immofin} \draw[ln] (\src) -- (genokredit);
  \draw[ln] (mikro) -- (bvrrating);
  \draw[dln] (kbg) -- (kreditsich);
  \draw[dln] (genofrs.west) to[out=180,in=0] (immofin.east);
  \draw[ln] (genostar) -- (mikro);
  \draw[ln] (genoservice.west) to[out=180,in=0] (kreditsich.east);
  \draw[dln] (fairy) -- (bkk);
  \draw[dln] (bkk) -- (inputbkk);
  \draw[dln] (einlagen) -- (bkk);
  \draw[ln] (inputbkk.south) -- (inputbkk.south |- kbg.north);
  \draw[ln] (kbg.east) .. controls +(15,0) and +(15,0) .. (genofrs.east);
  \draw[ln] (devisen) -- (zkurse);
  \draw[ln] (zkurse) -- (ikurse);
  \draw[ln] (ikurse.south) to[out=-90,in=90] (genozv.north);
  \draw[dln] (datev.west) to[out=180,in=0] (devisen.east);
  \draw[ln] (gesanalyse.west) to[out=180,in=0] (zkurse.east);

  % ---- Zahlungsverkehr ----
  \draw[ln] (topsparen) -- (genozv);
  \draw[ln] (clearing) -- (genozv);
  \draw[ln] (genozv) -- (diafiz);
  \draw[ln] (genocon) -- (diafiz);
  \draw[ln] (retouren) -- (multibank);
  \draw[ln] (diafiz) -- (multibank);
  \draw[ln] (kasse) -- (kursbar);
  \draw[ln] (kasse) -- (buchen);
  \draw[ln] (buchen) -- (sorten);
  \draw[dln] (kursbar) -- (sorten);
  \draw[dln] (blzsucher) -- (sorten);
  \foreach \src/\dst in {azv/genozv, mosaic/genozv, marena/diafiz, zvdz/multibank, pps/retouren,
                         vemos/kasse, research/kursbar, deber/sorten, transbank/sorten}
    \draw[ln] (\src.west) to[out=180,in=0] (\dst.east);
  \foreach \src/\dst in {kkbuchung/topsparen, spbuchung/clearing, engag/genocon, ebanking/retouren,
                         sbhost/kasse, depot/buchen}
    \draw[ln] (\src.east) to[out=0,in=180] (\dst.west);

  % ---- Querschnitt ----
  \draw[ln] (agora) -- (akp);
  \draw[ln] (allgsst) -- (anfrage);
  \draw[ln] (leippa) -- (allgsst);
  \draw[ln] (cubit) -- (kkhist);
  \draw[ln] (kkhist) -- (archiv);
  \draw[ln] (auftrag) -- (formular);
  \draw[ln] (formular) -- (mitteil);
  \draw[ln] (mitteil) -- (vorgang);
  \draw[dln] (aesa) -- (eingang);
  \draw[ln] (aesa) -- (ohm);
  \draw[ln] (ohm) -- (ukverl);
  \draw[ln] (aesa.south east) .. controls +(40,10) and +(-30,0) .. (hinweis.west);
  \draw[ln] (kompetenzbox) -- (bedvw);
  \draw[ln] (bedsucher) -- (pts);
  \draw[ln] (kompetenzbox) -- (bedsucher);
  \draw[ln] (anfrage.east) -- (cubit.west);
  \draw[dln] (hinweis.east) to[out=0,in=180] (bedsucher.west);
  \draw[dln] (eingang.east) to[out=0,in=90] (kompetenzbox.north);

  % ---- frontends up into the bank ----
  \draw[dln] (vrnet.north) .. controls +(0,-120) and +(0,60) .. (ebanking.south);
  \draw[ln] (mobile.north) to[out=90,in=-90] (ebanking.south);
  \draw[ln] (febank.north) to[out=90,in=-90] (ebanking.south east);
  \draw[dln] (vrnet.east) -| (mobile.north);
  \draw[ln] (ftam) -- (vrnet);
  \draw[ln] (sbhost.south) to[out=-90,in=90] (kad.north);
  \draw[ln] (sbhost.south west) to[out=-100,in=90] (gaa.north);
  \draw[dln] (sbhost.east) .. controls (360,850) and (330,1000) .. (st.east);
  \draw[dln] (crs.north) to[out=90,in=-90] (opt.south);
  \draw[ln] (lotuskal) -- (lotusmail);
  \draw[dln] (easy.east) to[out=0,in=90] (bshtop.north);
  \draw[dln] (bshtop.north east) .. controls +(20,-30) and +(-20,0) .. (hypoflex.west);
  \draw[dln] (halle.east) -- (visallianz.west);
  \draw[ln] (kassentresor.north) to[out=90,in=-90] (kkbuchung.south east);
  \draw[ln] (bvrfront.north) to[out=90,in=-90] (bvrrating.south);
  \draw[ln] (genokrfront.east) .. controls +(40,0) and +(0,120) .. (genokredit.south);
  \draw[ln] (ksfront.east) .. controls +(60,0) and +(0,140) .. (kreditsich.south);
  \draw[dln] (brokerfront.north) .. controls +(0,-200) and +(80,0) .. (genobroker.east);
  \draw[dln] (pvfront.west) .. controls +(-100,0) and +(0,150) .. (persvw.south);
  \draw[ln] (agorafront.west) .. controls +(-200,0) and +(0,60) .. (agora.south);
  \draw[ln] (gwmfront.west) .. controls +(-300,0) and +(0,60) .. (genoweb.south);
  \draw[dln] (multicom.east) .. controls +(10,0) and +(10,0) .. (bsgfront.east);
  \draw[ln] (aesafront.north) to[out=90,in=-90] (aesa.south);
  \draw[ln] (vkompfront.north) to[out=90,in=-90] (kompetenzbox.south);
  \draw[ln] (ikursefront.north) to[out=90,in=-90] (ikurse.south);
  \draw[ln] (cubitfront.north) .. controls +(0,-80) and +(0,80) .. (cubit.south);
  \draw[ln] (genoconfront.north) to[out=90,in=-90] (genocon.south);
  \draw[ln] (pksfront.north) to[out=90,in=-90] (bedvw.south);
  \draw[ln] (auftragfront.north) to[out=90,in=-90] (auftrag.south);
  \draw[dln] (genvfront.east) .. controls +(100,0) and +(0,200) .. (genostar.south);
  \draw[ln] (vkrfront.north) to[out=90,in=-90] (kbg.south);
\end{pgfonlayer}

\end{tikzpicture}
\end{document}
